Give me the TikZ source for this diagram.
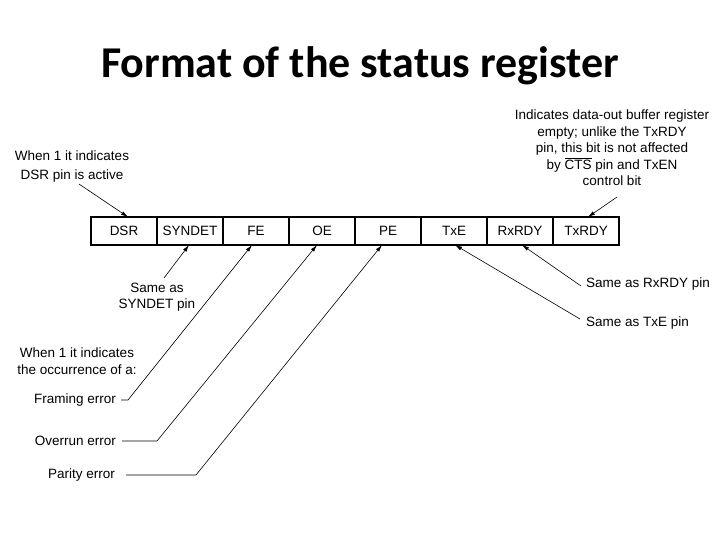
\documentclass[tikz,border=0pt]{standalone}
\usepackage{fontspec}
\setmainfont{Liberation Sans}
\newfontfamily\titlefont{Carlito}
\usetikzlibrary{positioning, calc, arrows.meta}

\begin{document}
\begin{tikzpicture}[x=1pt, y=-1pt,
    font=\fontsize{13.5}{16.5}\selectfont,
    cell/.style={draw, line width=1.3pt, minimum width=66pt, minimum height=28pt, outer sep=0pt, inner sep=0pt},
    note/.style={align=center, inner sep=1pt},
    arrow/.style={->, >={Latex[length=7pt, width=4pt]}, line width=0.6pt}]
    \useasboundingbox (0,0) rectangle (720,540);
    \node[font=\titlefont\bfseries\fontsize{44}{50}\selectfont] (title) at (360,66) {Format of the status register};

    % the eight bits
    \node[cell] (dsr) at (124,231) {DSR};
    \node[cell, right=0pt of dsr] (syndet) {SYNDET};
    \node[cell, right=0pt of syndet] (fe) {FE};
    \node[cell, right=0pt of fe] (oe) {OE};
    \node[cell, right=0pt of oe] (pe) {PE};
    \node[cell, right=0pt of pe] (txe) {TxE};
    \node[cell, right=0pt of txe] (rxrdy) {RxRDY};
    \node[cell, right=0pt of rxrdy] (txrdy) {TxRDY};

    % notes above
    \node[note, font=\fontsize{13.5}{19}\selectfont] (dsrnote) at (72,167) {When 1 it indicates\\DSR pin is active};
    \node[note] (txrdynote) at (612,148) {Indicates data-out buffer register\\empty; unlike the TxRDY\\pin, this bit is not affected\\by \(\overline{\mbox{CTS}}\) pin and TxEN\\control bit};
    \coordinate (dsrfrom) at (79,184);
    \coordinate (txrdyfrom) at (617,197);
    \draw[arrow] (dsrfrom) -- ([xshift=4pt]dsr.north);
    \draw[arrow] (txrdyfrom) -- ([xshift=2pt]txrdy.north);

    % notes below
    \node[note] (synnote) at (157,297) {Same as\\SYNDET pin};
    \node[note] (errnote) at (77,361) {When 1 it indicates\\the occurrence of a:};
    \node[note, anchor=east] (fenote) at (117,400) {Framing error};
    \node[note, anchor=east] (oenote) at (117,441) {Overrun error};
    \node[note, anchor=east] (penote) at (116,475) {Parity error};
    \node[note, anchor=west] (rxnote) at (585,284) {Same as RxRDY pin};
    \node[note, anchor=west] (txenote) at (585,323) {Same as TxE pin};

    \coordinate (synfrom) at (164,278);
    \draw[arrow] (synfrom) -- ([xshift=-1pt]syndet.south);
    \draw[arrow] ([xshift=4pt]fenote.east) -- ++(7,0) -- ([xshift=-4pt]fe.south);
    \draw[arrow] ([xshift=5pt]oenote.east) -- ++(35,0) -- ([xshift=-5pt]oe.south);
    \draw[arrow] ([xshift=10pt]penote.east) -- ++(70,0) -- ([xshift=-6pt]pe.south);
    \draw[arrow] ([xshift=-4pt,yshift=-2pt]rxnote.west) -- ([xshift=2pt]rxrdy.south);
    \draw[arrow] ([xshift=-5pt,yshift=4pt]txenote.west) -- ([xshift=1pt]txe.south);
\end{tikzpicture}
\end{document}
